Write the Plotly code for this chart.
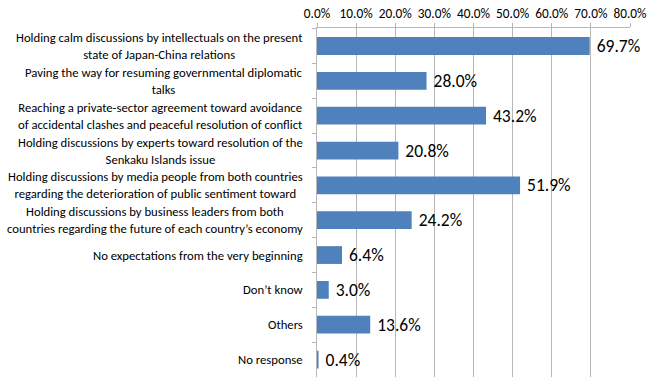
import plotly.graph_objects as go

categories = [
    "Holding calm discussions by intellectuals on the present<br>state of Japan-China relations",
    "Paving the way for resuming governmental diplomatic<br>talks",
    "Reaching a private-sector agreement toward avoidance<br>of accidental clashes and peaceful resolution of conflict",
    "Holding discussions by experts toward resolution of the<br>Senkaku Islands issue",
    "Holding discussions by media people from both countries<br>regarding the deterioration of public sentiment toward",
    "Holding discussions by business leaders from both<br>countries regarding the future of each country\u2019s economy",
    "No expectations from the very beginning",
    "Don\u2019t know",
    "Others",
    "No response",
]
values = [69.7, 28.0, 43.2, 20.8, 51.9, 24.2, 6.4, 3.0, 13.6, 0.4]
tick_vals = [0, 10, 20, 30, 40, 50, 60, 70, 80]

FONT = "Carlito, Calibri, Liberation Sans, Arial, sans-serif"
keys = [f"c{i}" for i in range(len(categories))]

fig = go.Figure(go.Bar(
    y=keys, x=values, orientation="h",
    marker=dict(color="#4F81BD", line=dict(width=0)),
    text=[f" {v:.1f}%" for v in values],
    textposition="outside", cliponaxis=False, constraintext="none",
    textfont=dict(family=FONT, size=17.5, color="#000000"),
    hoverinfo="skip",
))

for k, c in zip(keys, categories):
    fig.add_annotation(
        x=0, xref="paper", xshift=-12, xanchor="right",
        y=k, yref="y", yanchor="middle",
        text=c, align="center", showarrow=False,
        font=dict(family=FONT, size=12.7, color="#000000"),
    )

fig.update_layout(
    width=650, height=377,
    margin=dict(l=317, r=20, t=28, b=0),
    paper_bgcolor="white", plot_bgcolor="white",
    bargap=0.49, showlegend=False,
    xaxis=dict(
        side="top", range=[0, 80], tickvals=tick_vals,
        ticktext=[f"{v:.1f}%" for v in tick_vals],
        showgrid=True, gridcolor="#B7B7B7", gridwidth=1,
        showline=True, linecolor="#B7B7B7", linewidth=1,
        ticks="outside", ticklen=4, tickcolor="#B7B7B7",
        tickfont=dict(family=FONT, size=13.3, color="#000000"),
        zeroline=False, fixedrange=True, automargin=False,
    ),
    yaxis=dict(
        autorange="reversed", showticklabels=False,
        showline=True, linecolor="#B7B7B7", linewidth=1,
        ticks="outside", ticklen=4, tickcolor="#B7B7B7", tickson="boundaries",
        showgrid=False, zeroline=False, automargin=False, fixedrange=True,
    ),
)

fig.write_html(
    "out.html",
    config={"displayModeBar": False, "staticPlot": True},
    post_script="document.body.style.margin='0';document.body.style.overflow='hidden';",
)
